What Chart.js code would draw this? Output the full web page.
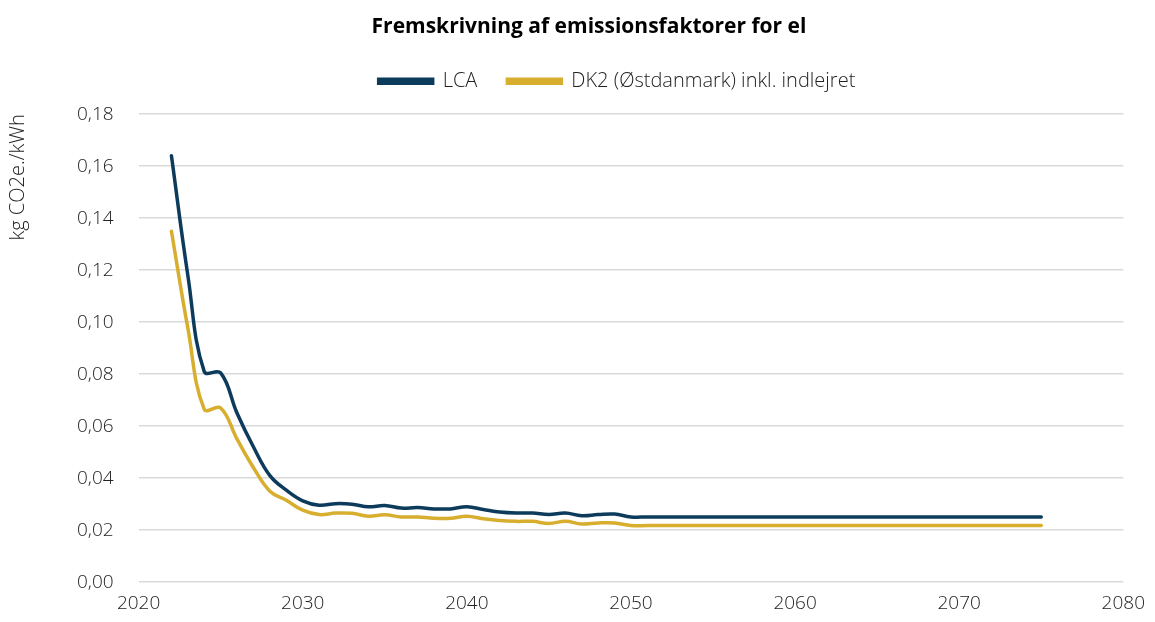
<!DOCTYPE html>
<html>
<head>
<meta charset="utf-8">
<script src="https://cdn.jsdelivr.net/npm/chart.js@4"></script>
<style>
  html, body { margin: 0; padding: 0; background: #fff; }
  #wrap { width: 1155px; height: 622px; }
</style>
</head>
<body>
<div id="wrap"><canvas id="elChart"></canvas></div>
<script>
// årstal og emissionsfaktorer (kg CO2e./kWh)
const years = [2022, 2023, 2024, 2025, 2026, 2027, 2028, 2029, 2030, 2031,
  2032, 2033, 2034, 2035, 2036, 2037, 2038, 2039, 2040, 2041,
  2042, 2043, 2044, 2045, 2046, 2047, 2048, 2049, 2050, 2051,
  2052, 2053, 2054, 2055, 2056, 2057, 2058, 2059, 2060, 2061,
  2062, 2063, 2064, 2065, 2066, 2067, 2068, 2069, 2070, 2071,
  2072, 2073, 2074, 2075];
const lca = [0.164, 0.118, 0.081, 0.0805, 0.065, 0.052, 0.041, 0.0354, 0.0313, 0.0296,
  0.0302, 0.030, 0.029, 0.0295, 0.0285, 0.0287, 0.0282, 0.0282, 0.029, 0.028,
  0.027, 0.0266, 0.0266, 0.026, 0.0266, 0.0256, 0.026, 0.0262, 0.0251, 0.0251,
  0.0251, 0.0251, 0.0251, 0.0251, 0.0251, 0.0251, 0.0251, 0.0251, 0.0251, 0.0251,
  0.0251, 0.0251, 0.0251, 0.0251, 0.0251, 0.0251, 0.0251, 0.0251, 0.0251, 0.0251,
  0.0251, 0.0251, 0.0251, 0.0251];
const dk2 = [0.135, 0.0977, 0.0665, 0.067, 0.055, 0.044, 0.035, 0.0315, 0.0277, 0.026,
  0.0266, 0.0265, 0.0254, 0.0259, 0.0251, 0.0251, 0.0246, 0.0246, 0.0254, 0.0244,
  0.0237, 0.0234, 0.0234, 0.0226, 0.0234, 0.0224, 0.0228, 0.0228, 0.0218, 0.0218,
  0.0218, 0.0218, 0.0218, 0.0218, 0.0218, 0.0218, 0.0218, 0.0218, 0.0218, 0.0218,
  0.0218, 0.0218, 0.0218, 0.0218, 0.0218, 0.0218, 0.0218, 0.0218, 0.0218, 0.0218,
  0.0218, 0.0218, 0.0218, 0.0218];

const toPoints = vals => years.map((y, i) => ({ x: y, y: vals[i] }));
const labelFont = { family: 'Open Sans', size: 19, weight: 300 };

// ekstra luft under forklaringen
const legendMargin = {
  id: 'legendMargin',
  beforeInit(chart) {
    const fit = chart.legend.fit;
    chart.legend.fit = function () {
      fit.bind(chart.legend)();
      this.height += 13;
    };
  }
};

// titel og forklaring sidder lidt til højre som i originalen
const shiftBoxes = {
  id: 'shiftBoxes',
  afterLayout(chart) {
    chart.titleBlock.left += 22;
    chart.titleBlock.right += 22;
    chart.legend.left += 50;
    chart.legend.right += 50;
  }
};

const ctx = document.getElementById('elChart').getContext('2d');
new Chart(ctx, {
  type: 'scatter',
  data: {
    datasets: [{
      label: 'LCA',
      data: toPoints(lca),
      showLine: true,
      borderColor: '#0d3b5c',
      backgroundColor: '#0d3b5c',
      borderWidth: 3.5,
      pointRadius: 0,
      tension: 0.4,
      borderCapStyle: 'round'
    }, {
      label: 'DK2 (Østdanmark) inkl. indlejret',
      data: toPoints(dk2),
      showLine: true,
      borderColor: '#d8ae2f',
      backgroundColor: '#d8ae2f',
      borderWidth: 3.5,
      pointRadius: 0,
      tension: 0.4,
      borderCapStyle: 'round'
    }]
  },
  options: {
    responsive: true,
    maintainAspectRatio: false,
    animation: false,
    layout: { padding: { left: 2, right: 23, top: 8, bottom: -3 } },
    plugins: {
      title: {
        display: true,
        text: 'Fremskrivning af emissionsfaktorer for el',
        color: '#000',
        font: { family: 'Open Sans', size: 21, weight: 'bold' },
        padding: { top: 6, bottom: 2 }
      },
      legend: {
        position: 'top',
        labels: {
          color: '#222',
          font: { family: 'Open Sans', size: 20, weight: 300 },
          boxWidth: 54,
          boxHeight: 4,
          padding: 30
        }
      },
      tooltip: { enabled: false }
    },
    scales: {
      x: {
        type: 'linear',
        min: 2020,
        max: 2080,
        ticks: {
          stepSize: 10,
          color: '#222',
          padding: 10,
          font: labelFont,
          callback: v => String(v),
          maxRotation: 0
        },
        grid: { display: false, drawTicks: false },
        border: { display: false }
      },
      y: {
        min: 0,
        max: 0.18,
        title: {
          display: true,
          text: 'kg CO2e./kWh',
          align: 'end',
          color: '#222',
          font: { family: 'Open Sans', size: 20, weight: 300 },
          padding: { bottom: 22 }
        },
        ticks: {
          stepSize: 0.02,
          color: '#222',
          padding: 25,
          font: labelFont,
          callback: v => v.toFixed(2).replace('.', ',')
        },
        grid: { color: '#d9d9d9', lineWidth: 1.5, drawTicks: false },
        border: { display: false }
      }
    }
  },
  plugins: [legendMargin, shiftBoxes]
});
</script>
</body>
</html>
